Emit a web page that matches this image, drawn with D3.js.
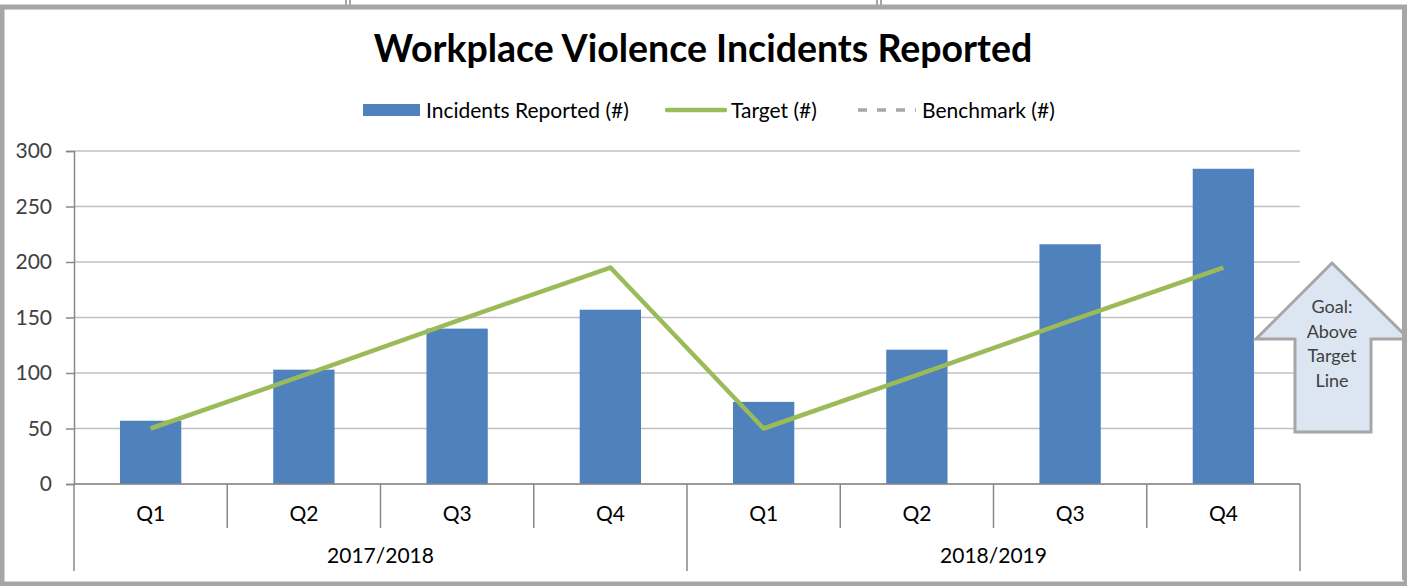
<!DOCTYPE html>
<html>
<head>
<meta charset="utf-8">
<script src="https://cdn.jsdelivr.net/npm/d3@7"></script>
<style>
  body { margin: 0; background: #fff; }
  svg { display: block; font-family: Lato, "Open Sans", sans-serif; }
</style>
</head>
<body>
<svg id="chart" width="1407" height="586"></svg>
<script>
// data
const years = ["2017/2018", "2018/2019"];
const quarters = ["Q1", "Q2", "Q3", "Q4"];
const incidents = [57, 103, 140, 157, 74, 121, 216, 284];
const target = [50, 98, 147, 195, 50, 98, 147, 195];
const benchmark = [null, null, null, null, null, null, null, null];
const yTicks = [0, 50, 100, 150, 200, 250, 300];
const goalText = ["Goal:", "Above", "Target", "Line"];

const W = 1407, H = 586;
const margin = { left: 74, right: 107, top: 151, bottom: 102 };
const labelSize = "21px";

const svg = d3.select("#chart");

// categories = year x quarter
const cats = [];
years.forEach(y => quarters.forEach(q => cats.push(y + "|" + q)));

const x = d3.scaleBand()
    .domain(cats)
    .range([margin.left, W - margin.right])
    .paddingInner(0.6)
    .paddingOuter(0.3);

const xBand = d3.scaleBand()
    .domain(cats)
    .range([margin.left, W - margin.right]);

const y = d3.scaleLinear()
    .domain([0, 300])
    .range([H - margin.bottom, margin.top]);

// outer frame
svg.append("rect")
    .attr("x", 2).attr("y", 7)
    .attr("width", W - 3).attr("height", H - 9)
    .attr("fill", "#fff")
    .attr("stroke", "#a6a6a6")
    .attr("stroke-width", 5);

// little marks above the frame
[345, 349, 876, 880].forEach(px => {
    svg.append("rect").attr("x", px).attr("y", 0)
        .attr("width", 2).attr("height", 5).attr("fill", "#a6a6a6");
});

// title
svg.append("text")
    .attr("x", 703).attr("y", 62)
    .attr("text-anchor", "middle")
    .style("font-size", "37.5px")
    .style("font-weight", "bold")
    .attr("fill", "#000")
    .text("Workplace Violence Incidents Reported");

// gridlines
svg.append("g")
    .selectAll("line")
    .data(yTicks)
    .enter()
    .append("line")
    .attr("x1", margin.left)
    .attr("x2", W - margin.right)
    .attr("y1", d => y(d))
    .attr("y2", d => y(d))
    .attr("stroke", "#c0c0c0")
    .attr("stroke-width", 1.5);

// y axis
const yAxis = svg.append("g")
    .attr("transform", `translate(${margin.left},0)`)
    .call(d3.axisLeft(y).tickValues(yTicks).tickSize(8).tickPadding(14));
yAxis.select(".domain").attr("stroke", "#888").attr("stroke-width", 1.5);
yAxis.selectAll(".tick line").attr("stroke", "#888").attr("stroke-width", 1.5);
yAxis.selectAll(".tick text")
    .style("font-size", labelSize)
    .style("font-family", "Lato, 'Open Sans', sans-serif")
    .attr("fill", "#404040");

// bars
svg.append("g")
    .selectAll("rect")
    .data(incidents)
    .enter()
    .append("rect")
    .attr("x", (d, i) => x(cats[i]))
    .attr("width", x.bandwidth())
    .attr("y", d => y(d))
    .attr("height", d => y(0) - y(d))
    .attr("fill", "#4f81bd");

// target line
const line = d3.line()
    .defined(d => d.v != null)
    .x(d => xBand(d.c) + xBand.bandwidth() / 2)
    .y(d => y(d.v));

svg.append("path")
    .datum(target.map((v, i) => ({ c: cats[i], v: v })))
    .attr("d", line)
    .attr("fill", "none")
    .attr("stroke", "#9bbb59")
    .attr("stroke-width", 4.5)
    .attr("stroke-linejoin", "round");

// benchmark line (no values)
svg.append("path")
    .datum(benchmark.map((v, i) => ({ c: cats[i], v: v })))
    .attr("d", line)
    .attr("fill", "none")
    .attr("stroke", "#a6a6a6")
    .attr("stroke-width", 3)
    .attr("stroke-dasharray", "10,8");

// x axis: quarter and year levels
const base = y(0);
const axisG = svg.append("g");
axisG.append("line")
    .attr("x1", margin.left).attr("x2", W - margin.right)
    .attr("y1", base).attr("y2", base)
    .attr("stroke", "#888").attr("stroke-width", 1.5);

const bounds = d3.range(cats.length + 1).map(i =>
    i < cats.length ? xBand(cats[i]) : xBand(cats[cats.length - 1]) + xBand.bandwidth());

axisG.selectAll("line.qtick")
    .data(bounds)
    .enter()
    .append("line")
    .attr("class", "qtick")
    .attr("x1", d => d).attr("x2", d => d)
    .attr("y1", base)
    .attr("y2", (d, i) => i % quarters.length === 0 ? base + 87 : base + 44)
    .attr("stroke", "#888").attr("stroke-width", 1.5);

axisG.selectAll("text.q")
    .data(cats)
    .enter()
    .append("text")
    .attr("class", "q")
    .attr("x", d => xBand(d) + xBand.bandwidth() / 2)
    .attr("y", base + 37)
    .attr("text-anchor", "middle")
    .style("font-size", labelSize)
    .attr("fill", "#000")
    .text(d => d.split("|")[1]);

axisG.selectAll("text.yr")
    .data(years)
    .enter()
    .append("text")
    .attr("class", "yr")
    .attr("x", (d, i) => {
        const a = bounds[i * quarters.length], b = bounds[(i + 1) * quarters.length];
        return (a + b) / 2;
    })
    .attr("y", base + 79)
    .attr("text-anchor", "middle")
    .style("font-size", labelSize)
    .attr("fill", "#000")
    .text(d => d);

// legend
const legend = svg.append("g").attr("transform", "translate(0,110)");
legend.append("rect")
    .attr("x", 363).attr("y", -6).attr("width", 57).attr("height", 12)
    .attr("fill", "#4f81bd");
legend.append("text").attr("x", 426).attr("y", 7.5)
    .style("font-size", labelSize).text("Incidents Reported (#)");
legend.append("line")
    .attr("x1", 667).attr("x2", 725).attr("y1", 0).attr("y2", 0)
    .attr("stroke", "#9bbb59").attr("stroke-width", 4.5).attr("stroke-linecap", "round");
legend.append("text").attr("x", 731).attr("y", 7.5)
    .style("font-size", labelSize).text("Target (#)");
legend.append("line")
    .attr("x1", 858).attr("x2", 916).attr("y1", 0).attr("y2", 0)
    .attr("stroke", "#a6a6a6").attr("stroke-width", 3.5)
    .attr("stroke-dasharray", "9,10");
legend.append("text").attr("x", 922).attr("y", 7.5)
    .style("font-size", labelSize).text("Benchmark (#)");

// goal arrow annotation
const arrowPts = [[1332, 263], [1409, 339], [1371, 339], [1371, 432],
                  [1295, 432], [1295, 339], [1256, 339]];
svg.append("path")
    .attr("d", d3.line()(arrowPts) + "Z")
    .attr("fill", "#dce6f2")
    .attr("stroke", "#a6a6a6")
    .attr("stroke-width", 3);
// redraw right border over the arrow
svg.append("line")
    .attr("x1", 1404.5).attr("x2", 1404.5).attr("y1", 7).attr("y2", 580)
    .attr("stroke", "#a6a6a6").attr("stroke-width", 5);

svg.append("g")
    .selectAll("text")
    .data(goalText)
    .enter()
    .append("text")
    .attr("x", 1332)
    .attr("y", (d, i) => 313 + i * 24.5)
    .attr("text-anchor", "middle")
    .style("font-size", "18px")
    .attr("fill", "#404040")
    .text(d => d);
</script>
</body>
</html>
